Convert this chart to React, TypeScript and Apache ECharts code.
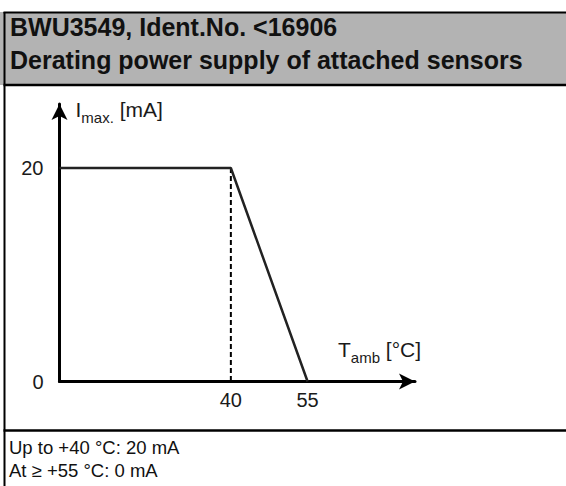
import React, { useEffect, useRef } from "react";
import * as echarts from "echarts";

// ---- data ----
const derating: [number, number][] = [
  [6.5, 20],
  [40, 20],
  [55, 0],
];
const guide40: [number, number][] = [
  [40, 20],
  [40, 0],
];
const xTicks = [40, 55];
const yTicks = [0, 20];
const xRange = [6.5, 76];
const yRange = [0, 26];
const headerLines = [
  "BWU3549, Ident.No. <16906",
  "Derating power supply of attached sensors",
];
const footerLines = ["Up to +40 °C: 20 mA", "At ≥ +55 °C: 0 mA"];

const FONT = "'Liberation Sans', Arial, sans-serif";
const INK = "#1a1a1a";

export default function App() {
  const ref = useRef<HTMLDivElement>(null);
  useEffect(() => {
    if (!ref.current) return;
    const chart = echarts.init(ref.current, null, { renderer: "svg" });
    const rich = {
      a: { fontSize: 21, fontFamily: FONT, color: INK, lineHeight: 30 },
      b: {
        fontSize: 15,
        fontFamily: FONT,
        color: INK,
        lineHeight: 18,
        verticalAlign: "bottom",
      },
    };
    chart.setOption({
      animation: false,
      backgroundColor: "#ffffff",
      grid: { left: 59.5, right: 151, top: 104, bottom: 104.5 },
      xAxis: {
        type: "value",
        min: xRange[0],
        max: xRange[1],
        name: "{a|T}{b|amb}{a| [°C]}",
        nameLocation: "end",
        nameGap: -77,
        nameTextStyle: {
          align: "left",
          verticalAlign: "bottom",
          padding: [0, 0, 17, 0],
          rich,
        },
        axisLine: {
          lineStyle: { color: "#000", width: 3 },
          symbol: ["none", "arrow"],
          symbolSize: [12, 16],
        },
        axisTick: { show: false },
        splitLine: { show: false },
        axisLabel: {
          customValues: xTicks,
          margin: 8,
          fontSize: 20,
          fontFamily: FONT,
          color: INK,
        },
      },
      yAxis: {
        type: "value",
        min: yRange[0],
        max: yRange[1],
        name: "{a|I}{b|max.}{a| [mA]}",
        nameLocation: "end",
        nameGap: -5.5,
        nameTextStyle: {
          align: "left",
          verticalAlign: "middle",
          padding: [0, 0, 0, 16],
          rich,
        },
        axisLine: {
          lineStyle: { color: "#000", width: 3 },
          symbol: ["none", "arrow"],
          symbolSize: [12, 16],
        },
        axisTick: { show: false },
        splitLine: { show: false },
        axisLabel: {
          customValues: yTicks,
          margin: 16,
          fontSize: 20,
          fontFamily: FONT,
          color: INK,
        },
      },
      series: [
        {
          type: "line",
          data: derating,
          symbol: "none",
          lineStyle: { color: "#222", width: 2.5 },
          z: 3,
        },
        {
          type: "line",
          data: guide40,
          symbol: "none",
          lineStyle: { color: "#000", width: 2, type: [5, 3] },
          z: 2,
        },
      ],
      graphic: [
        {
          type: "rect",
          shape: { x: 0, y: 12, width: 566, height: 73 },
          style: { fill: "#b3b3b3" },
          z: -1,
        },
        {
          type: "line",
          shape: { x1: 3.5, y1: 12.5, x2: 566, y2: 12.5 },
          style: { stroke: "#000", lineWidth: 2 },
        },
        {
          type: "line",
          shape: { x1: 4.5, y1: 12, x2: 4.5, y2: 486 },
          style: { stroke: "#000", lineWidth: 2 },
        },
        {
          type: "line",
          shape: { x1: 3.5, y1: 85, x2: 566, y2: 85 },
          style: { stroke: "#000", lineWidth: 2.5 },
        },
        {
          type: "line",
          shape: { x1: 3.5, y1: 430.5, x2: 566, y2: 430.5 },
          style: { stroke: "#000", lineWidth: 2.5 },
        },
        ...headerLines.map((t, i) => ({
          type: "text",
          x: 10,
          y: 27 + i * 33,
          style: {
            text: t,
            fontSize: 25,
            fontWeight: "bold",
            fontFamily: FONT,
            fill: "#111",
            verticalAlign: "middle",
          },
        })),
        ...footerLines.map((t, i) => ({
          type: "text",
          x: 9,
          y: 447 + i * 23,
          style: {
            text: t,
            fontSize: 18.5,
            fontFamily: FONT,
            fill: "#111",
            verticalAlign: "middle",
          },
        })),
      ],
    });
    return () => chart.dispose();
  }, []);
  return (
    <div
      ref={ref}
      style={{ position: "absolute", left: 0, top: 0, width: 566, height: 486 }}
    />
  );
}
